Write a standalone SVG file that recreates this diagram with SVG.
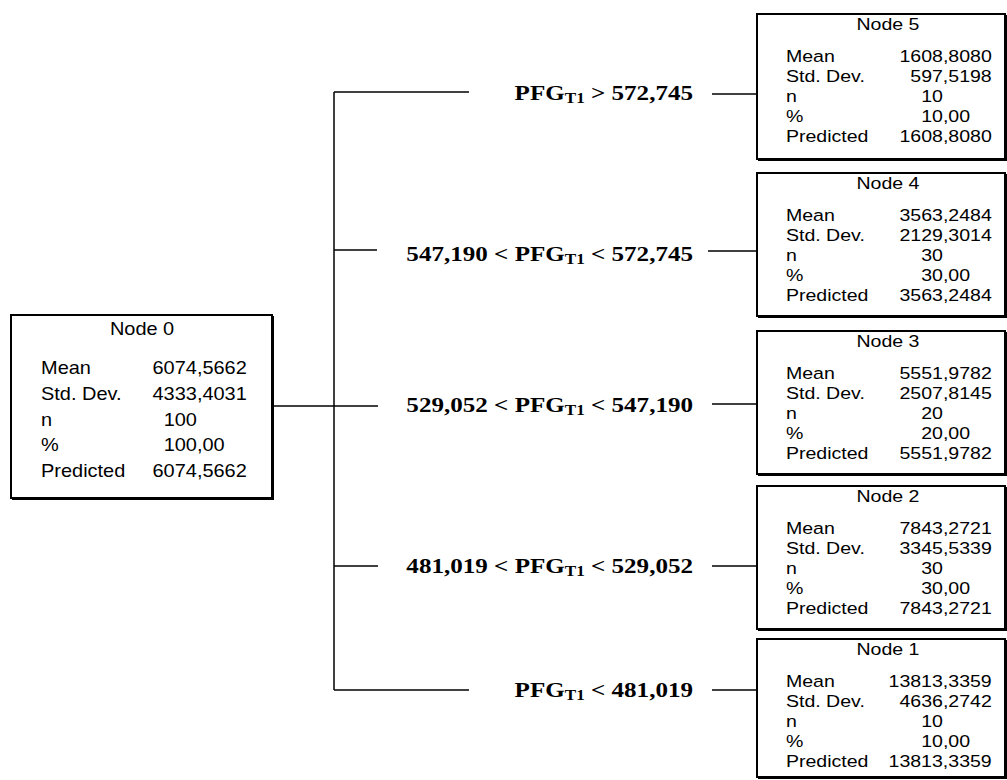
<svg xmlns="http://www.w3.org/2000/svg" width="1007" height="780" viewBox="0 0 1007 780">
<style>
.bg{fill:#fff}
.box{fill:#fff;stroke:#000;stroke-width:2}
.sh{fill:none;stroke:#000;stroke-width:2}
.t0{font-family:"Liberation Sans",Arial,sans-serif;font-size:19px;fill:#000}
.t{font-family:"Liberation Sans",Arial,sans-serif;font-size:17px;fill:#000}
.c{text-anchor:middle}
.e{text-anchor:end}
.lbl{font-family:"Liberation Serif","Times New Roman",serif;font-weight:bold;font-size:22px;fill:#000;text-anchor:end}
.sub{font-size:15px}
.conn{stroke:#000;stroke-width:1.5;fill:none}
</style>
<rect class="bg" x="0" y="0" width="1007" height="780"/>
<g id="connectors">
<path class="conn" d="M272,406 H334"/>
<path class="conn" d="M334,92 V690"/>
<path class="conn" d="M334,92 H469"/>
<path class="conn" d="M334,250 H377"/>
<path class="conn" d="M334,406 H378"/>
<path class="conn" d="M334,566 H378"/>
<path class="conn" d="M334,690 H469"/>
<path class="conn" d="M712,94 H757"/>
<path class="conn" d="M708,251 H757"/>
<path class="conn" d="M712,404 H757"/>
<path class="conn" d="M712,566 H757"/>
<path class="conn" d="M712,690 H757"/>
</g>
<g id="labels">
<text class="lbl" transform="translate(693,100) scale(1.14,1)">PFG<tspan class="sub" dy="3">T1</tspan><tspan dy="-3"> &gt; 572,745</tspan></text>
<text class="lbl" transform="translate(693,261) scale(1.14,1)">547,190 &lt; PFG<tspan class="sub" dy="3">T1</tspan><tspan dy="-3"> &lt; 572,745</tspan></text>
<text class="lbl" transform="translate(693,412) scale(1.14,1)">529,052 &lt; PFG<tspan class="sub" dy="3">T1</tspan><tspan dy="-3"> &lt; 547,190</tspan></text>
<text class="lbl" transform="translate(693,573) scale(1.14,1)">481,019 &lt; PFG<tspan class="sub" dy="3">T1</tspan><tspan dy="-3"> &lt; 529,052</tspan></text>
<text class="lbl" transform="translate(693,697) scale(1.14,1)">PFG<tspan class="sub" dy="3">T1</tspan><tspan dy="-3"> &lt; 481,019</tspan></text>
</g>
<g id="node0">
<rect class="box" x="11" y="315" width="261" height="183"/>
<path class="sh" d="M273,316 V499 H12"/>
<g class="t0" transform="translate(11,315) scale(1.05,1)">
<text class="c" x="124.8" y="20">Node 0</text>
<text x="28.6" y="59">Mean</text><text x="134.8" y="59">6074,5662</text>
<text x="28.6" y="85">Std. Dev.</text><text x="134.8" y="85">4333,4031</text>
<text x="28.6" y="111">n</text><text class="e" x="177.1" y="111">100</text>
<text x="28.6" y="136">%</text><text x="145.4" y="136">100,00</text>
<text x="28.6" y="162">Predicted</text><text x="134.8" y="162">6074,5662</text>
</g>
</g>
<g id="node5">
<rect class="box" x="757" y="14" width="248" height="145"/>
<path class="sh" d="M1006,15 V160 H758"/>
<g class="t" transform="translate(757,14) scale(1.15,1)">
<text class="c" x="113.9" y="16">Node 5</text>
<text x="25.2" y="48">Mean</text><text x="123.9" y="48">1608,8080</text>
<text x="25.2" y="68">Std. Dev.</text><text x="133.3" y="68">597,5198</text>
<text x="25.2" y="88">n</text><text class="e" x="161.7" y="88">10</text>
<text x="25.2" y="108">%</text><text x="142.8" y="108">10,00</text>
<text x="25.2" y="128">Predicted</text><text x="123.9" y="128">1608,8080</text>
</g>
</g>
<g id="node4">
<rect class="box" x="757" y="173" width="248" height="143"/>
<path class="sh" d="M1006,174 V317 H758"/>
<g class="t" transform="translate(757,173) scale(1.15,1)">
<text class="c" x="113.9" y="16">Node 4</text>
<text x="25.2" y="48">Mean</text><text x="123.9" y="48">3563,2484</text>
<text x="25.2" y="68">Std. Dev.</text><text x="123.9" y="68">2129,3014</text>
<text x="25.2" y="88">n</text><text class="e" x="161.7" y="88">30</text>
<text x="25.2" y="108">%</text><text x="142.8" y="108">30,00</text>
<text x="25.2" y="128">Predicted</text><text x="123.9" y="128">3563,2484</text>
</g>
</g>
<g id="node3">
<rect class="box" x="757" y="331" width="248" height="143"/>
<path class="sh" d="M1006,332 V475 H758"/>
<g class="t" transform="translate(757,331) scale(1.15,1)">
<text class="c" x="113.9" y="16">Node 3</text>
<text x="25.2" y="48">Mean</text><text x="123.9" y="48">5551,9782</text>
<text x="25.2" y="68">Std. Dev.</text><text x="123.9" y="68">2507,8145</text>
<text x="25.2" y="88">n</text><text class="e" x="161.7" y="88">20</text>
<text x="25.2" y="108">%</text><text x="142.8" y="108">20,00</text>
<text x="25.2" y="128">Predicted</text><text x="123.9" y="128">5551,9782</text>
</g>
</g>
<g id="node2">
<rect class="box" x="757" y="486" width="248" height="143"/>
<path class="sh" d="M1006,487 V630 H758"/>
<g class="t" transform="translate(757,486) scale(1.15,1)">
<text class="c" x="113.9" y="16">Node 2</text>
<text x="25.2" y="48">Mean</text><text x="123.9" y="48">7843,2721</text>
<text x="25.2" y="68">Std. Dev.</text><text x="123.9" y="68">3345,5339</text>
<text x="25.2" y="88">n</text><text class="e" x="161.7" y="88">30</text>
<text x="25.2" y="108">%</text><text x="142.8" y="108">30,00</text>
<text x="25.2" y="128">Predicted</text><text x="123.9" y="128">7843,2721</text>
</g>
</g>
<g id="node1">
<rect class="box" x="757" y="639" width="248" height="138"/>
<path class="sh" d="M1006,640 V778 H758"/>
<g class="t" transform="translate(757,639) scale(1.15,1)">
<text class="c" x="113.9" y="16">Node 1</text>
<text x="25.2" y="48">Mean</text><text x="114.4" y="48">13813,3359</text>
<text x="25.2" y="68">Std. Dev.</text><text x="123.9" y="68">4636,2742</text>
<text x="25.2" y="88">n</text><text class="e" x="161.7" y="88">10</text>
<text x="25.2" y="108">%</text><text x="142.8" y="108">10,00</text>
<text x="25.2" y="128">Predicted</text><text x="114.4" y="128">13813,3359</text>
</g>
</g>
</svg>
